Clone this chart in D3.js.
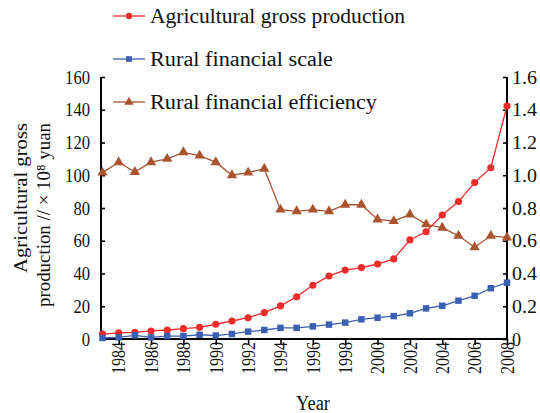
<!DOCTYPE html>
<html><head><meta charset="utf-8">
<script src="https://cdn.jsdelivr.net/npm/d3@7"></script>
<style>body{margin:0;background:#fff}text{font-family:"Liberation Serif",serif;fill:#111}</style>
</head><body>
<svg id="c" width="540" height="413"></svg>
<script>
const years = d3.range(1983, 2009);
const agriProduction = [3.0,3.8,4.1,4.9,5.5,6.3,7.1,9.0,11.0,13.0,16.1,20.2,25.8,32.8,38.5,42.1,43.6,45.8,48.9,60.5,65.5,75.7,83.9,95.5,104.6,142.3];
const finScale = [0.6,1.0,2.2,1.0,1.8,1.8,2.6,2.1,3.1,4.5,5.5,6.8,6.8,7.7,8.8,10.0,12.0,13.0,14.0,15.7,18.7,20.3,23.4,26.4,31.0,34.4];
const finEfficiency = [1.016,1.08,1.02,1.08,1.10,1.14,1.12,1.08,1.00,1.016,1.04,0.79,0.78,0.79,0.78,0.82,0.82,0.73,0.72,0.76,0.70,0.68,0.63,0.56,0.63,0.62];
const leftTicks = [0,20,40,60,80,100,120,140,160];
const rightTicks = [0,0.2,0.4,0.6,0.8,1.0,1.2,1.4,1.6];
const xTicks = d3.range(1984, 2009, 2);
const legendLabels = ["Agricultural gross production","Rural financial scale","Rural financial efficiency"];

const svg = d3.select("#c");
const L = 101, R = 507, T = 77, B = 339;
const x = d3.scaleLinear().domain([1983, 2008]).range([102.5, R]);
const yL = d3.scaleLinear().domain([0, 160]).range([B, T]);
const yR = d3.scaleLinear().domain([0, 1.6]).range([B, T]);
const cw = 8.3; // glyph advance of the condensed reference font

function squeeze(sel) {
  sel.each(function () {
    const t = d3.select(this);
    t.attr("textLength", t.text().length * cw).attr("lengthAdjust", "spacingAndGlyphs");
  });
}

// axes
const gl = svg.append("g").attr("transform", `translate(${L},0)`)
  .call(d3.axisLeft(yL).tickValues(leftTicks).tickSize(-4).tickPadding(11).tickFormat(d3.format("d")));
const gr = svg.append("g").attr("transform", `translate(${R},0)`)
  .call(d3.axisRight(yR).tickValues(rightTicks).tickSize(-4).tickPadding(5).tickFormat(d => d === 0 ? "0" : d3.format(".1f")(d)));
const gb = svg.append("g").attr("transform", `translate(0,${B})`)
  .call(d3.axisBottom(x).tickValues(xTicks).tickSize(6).tickFormat(d3.format("d")));
[gl, gr, gb].forEach(g => {
  g.select(".domain").remove();
  g.selectAll(".tick line").attr("stroke", "#000").attr("stroke-width", 1.6);
  g.selectAll(".tick text").attr("font-size", 19).attr("font-family", "Liberation Serif").attr("fill", "#111").call(squeeze);
});
gr.selectAll(".tick text").attr("textLength", function () { return d3.select(this).text().length === 1 ? 9 : 25; });
gb.selectAll(".tick text").attr("transform", "rotate(-90)").attr("text-anchor", "end")
  .attr("x", -3).attr("y", 0).attr("dy", "0.33em").attr("textLength", 32);
svg.append("path").attr("d", `M${L},${T}V${B}H${R}V${T}`).attr("fill", "none").attr("stroke", "#000").attr("stroke-width", 2);

// series
const series = [
  {vals: agriProduction, y: yL, color: "#ee2b2b", shape: d3.symbolCircle, size: 40},
  {vals: finScale, y: yL, color: "#3b5fb3", shape: d3.symbolSquare, size: 42},
  {vals: finEfficiency, y: yR, color: "#a9532f", shape: d3.symbolTriangle, size: 46}
];
series.forEach(s => {
  const line = d3.line().x((d, i) => x(years[i])).y(d => s.y(d));
  svg.append("path").attr("d", line(s.vals)).attr("fill", "none").attr("stroke", s.color).attr("stroke-width", 1.3);
  svg.selectAll(null).data(s.vals).enter().append("path")
    .attr("d", d3.symbol().type(s.shape).size(s.size))
    .attr("transform", (d, i) => `translate(${x(years[i])},${s.y(d)})`)
    .attr("fill", s.color);
});

// legend
const legY = [16, 59, 102], legLen = [255, 183, 227];
series.forEach((s, i) => {
  const g = svg.append("g").attr("transform", `translate(113,${legY[i]})`);
  g.append("line").attr("x1", 0).attr("x2", 32).attr("stroke", s.color).attr("stroke-width", 1.3);
  g.append("path").attr("d", d3.symbol().type(s.shape).size(s.size * 0.8)).attr("transform", "translate(16,0)").attr("fill", s.color);
  g.append("text").attr("x", 37).attr("dy", "0.35em").attr("font-size", 20)
    .attr("textLength", legLen[i]).attr("lengthAdjust", "spacingAndGlyphs").text(legendLabels[i]);
});

// axis titles
svg.append("text").attr("transform", "translate(27,123) rotate(-90)").attr("text-anchor", "end")
  .attr("font-size", 19).attr("textLength", 150).attr("lengthAdjust", "spacingAndGlyphs").text("Agricultural gross");
svg.append("text").attr("transform", "translate(50,123) rotate(-90)").attr("text-anchor", "end")
  .attr("font-size", 19).attr("textLength", 184).attr("lengthAdjust", "spacingAndGlyphs").text("production // × 10⁸ yuan");
svg.append("text").attr("x", 313).attr("y", 410).attr("text-anchor", "middle").attr("font-size", 20)
  .attr("textLength", 34).attr("lengthAdjust", "spacingAndGlyphs").text("Year");
</script>
</body></html>
